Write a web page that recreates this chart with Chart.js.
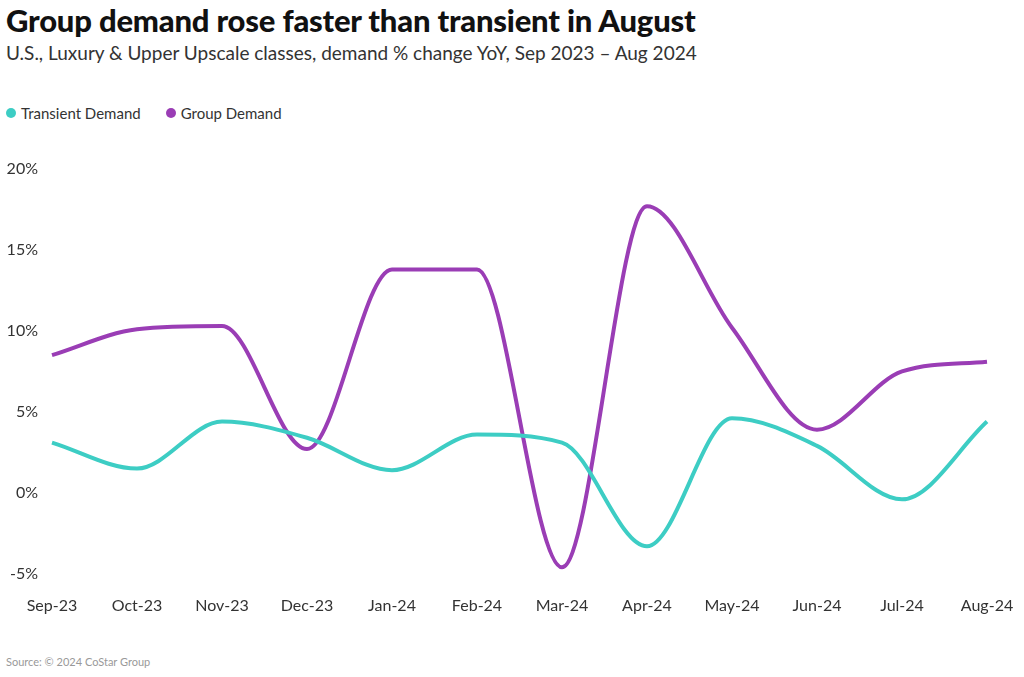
<!DOCTYPE html>
<html>
<head>
<meta charset="utf-8">
<script src="https://cdn.jsdelivr.net/npm/chart.js@4"></script>
<style>
    html, body { margin: 0; padding: 0; background: #fff; }
    body { width: 1024px; height: 677px; position: relative; overflow: hidden; font-family: Lato, "Noto Sans", sans-serif; }
    #title { position: absolute; left: 6px; top: 1px; font-size: 31px; font-weight: 900; color: #111; letter-spacing: -0.2px; }
    #subtitle { position: absolute; left: 6px; top: 41px; font-size: 19px; color: #333; }
    #legend { position: absolute; left: 6px; top: 104px; font-size: 15px; color: #333; display: flex; gap: 25px; }
    #legend span { display: flex; align-items: center; }
    #legend i { display: inline-block; width: 10px; height: 10px; border-radius: 50%; margin-right: 5px; }
    #source { position: absolute; left: 6px; top: 655px; font-size: 11px; color: #999; }
    #wrap { position: absolute; left: 0; top: 90px; width: 1024px; height: 549px; }
</style>
</head>
<body>
<div id="title">Group demand rose faster than transient in August</div>
<div id="subtitle">U.S., Luxury &amp; Upper Upscale classes, demand % change YoY, Sep 2023 – Aug 2024</div>
<div id="legend"></div>
<div id="wrap"><canvas id="chart"></canvas></div>
<div id="source">Source: © 2024 CoStar Group</div>
<script>
// Данные графика
const months = ['Sep-23', 'Oct-23', 'Nov-23', 'Dec-23', 'Jan-24', 'Feb-24', 'Mar-24', 'Apr-24', 'May-24', 'Jun-24', 'Jul-24', 'Aug-24'];
const transientDemand = [3.1, 1.5, 4.4, 3.4, 1.4, 3.6, 3.1, -3.3, 4.6, 2.9, -0.4, 4.4];
const groupDemand = [8.5, 10.1, 10.3, 2.7, 13.8, 13.8, -4.6, 17.7, 10.2, 3.9, 7.5, 8.1];
const yTicks = [-5, 0, 5, 10, 15, 20];

const TEAL = '#3dcdc4';
const PURPLE = '#9a3db5';

const chart = new Chart(document.getElementById('chart'), {
    type: 'line',
    data: {
        labels: months,
        datasets: [
            {
                label: 'Transient Demand',
                data: transientDemand,
                borderColor: TEAL,
                backgroundColor: TEAL,
                borderWidth: 4,
                pointRadius: 0,
                cubicInterpolationMode: 'monotone',
                fill: false
            },
            {
                label: 'Group Demand',
                data: groupDemand,
                borderColor: PURPLE,
                backgroundColor: PURPLE,
                borderWidth: 4,
                pointRadius: 0,
                cubicInterpolationMode: 'monotone',
                fill: false
            }
        ]
    },
    options: {
        responsive: true,
        maintainAspectRatio: false,
        animation: false,
        layout: { padding: { left: 6, right: 37, top: 79, bottom: 2 } },
        scales: {
            x: {
                offset: false,
                afterFit(axis) {
                    // подписи выходят за область графика, как в оригинале
                    axis.paddingLeft = 0;
                    axis.paddingRight = 0;
                },
                grid: { display: false, drawTicks: false },
                border: { display: false },
                ticks: {
                    color: '#333',
                    padding: 22,
                    maxRotation: 0,
                    autoSkip: false,
                    font: { family: 'Lato', size: 16 }
                }
            },
            y: {
                min: -5,
                max: 20,
                afterBuildTicks(axis) {
                    axis.ticks = yTicks.map(v => ({ value: v }));
                },
                afterFit(axis) {
                    axis.width = 46;
                },
                grid: { display: false, drawTicks: false },
                border: { display: false },
                ticks: {
                    color: '#333',
                    padding: 14,
                    font: { family: 'Lato', size: 16 },
                    callback: v => v + '%'
                }
            }
        },
        plugins: {
            legend: { display: false },
            tooltip: { enabled: false }
        }
    }
});

// Легенда в HTML
const legendEl = document.getElementById('legend');
chart.data.datasets.forEach(ds => {
    const item = document.createElement('span');
    const dot = document.createElement('i');
    dot.style.background = ds.borderColor;
    item.appendChild(dot);
    item.appendChild(document.createTextNode(ds.label));
    legendEl.appendChild(item);
});
</script>
</body>
</html>
